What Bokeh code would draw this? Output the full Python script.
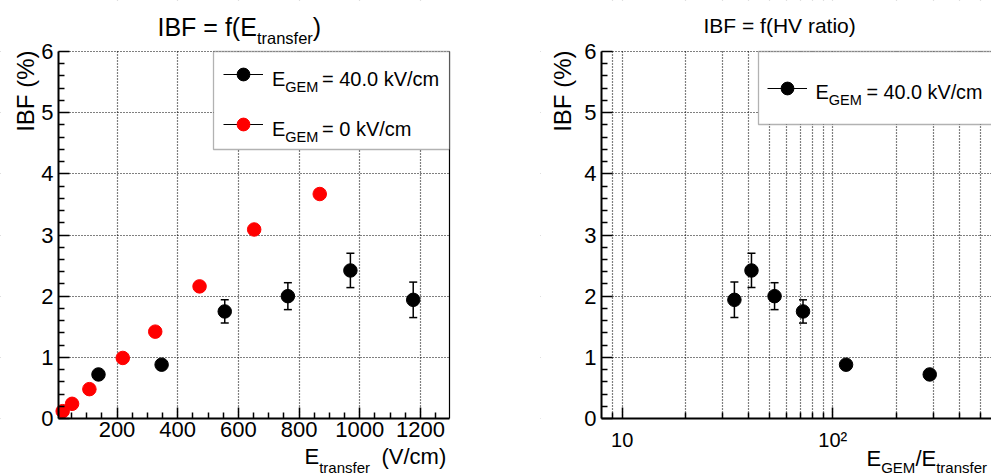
import numpy as np
from bokeh.plotting import figure
from bokeh.models import (ColumnDataSource, Whisker, TeeHead, FixedTicker, Label,
                          Legend, LegendItem, BoxAnnotation, LinearAxis, Range1d)
from bokeh.layouts import row
from bokeh.embed import file_html
from bokeh.resources import INLINE

# ---------------- data ----------------
e_transfer_40 = [139, 347, 555, 763, 969, 1176]          # V/cm, E_GEM = 40 kV/cm
ibf_40 = [0.72, 0.88, 1.75, 2.00, 2.42, 1.94]            # %
ibf_40_err = [0.05, 0.06, 0.19, 0.22, 0.28, 0.29]
hv_ratio_40 = [288.6, 115.6, 72.2, 52.9, 41.1, 34.1]     # E_GEM / E_transfer
e_transfer_0 = [21, 52, 109, 219, 326, 472, 652, 868]    # V/cm, E_GEM = 0 kV/cm
ibf_0 = [0.12, 0.24, 0.48, 0.99, 1.42, 2.16, 3.09, 3.67]

left_x_ticks = [200, 400, 600, 800, 1000, 1200]
left_x_minor = [50, 100, 150, 250, 300, 350, 450, 500, 550, 650, 700, 750,
                850, 900, 950, 1050, 1100, 1150, 1250]
y_ticks = [0, 1, 2, 3, 4, 5, 6]
y_minor = [round(0.2 * i, 1) for i in range(31) if i % 5]
log_ticks = [10, 100]
log_minor = [9, 20, 30, 40, 50, 60, 70, 80, 90, 200, 300, 400, 500]
log_tick_labels = {10: "10", 100: "10\u00b2"}

legend_labels_left = ["= 40.0 kV/cm", "= 0 kV/cm"]
legend_label_right = "= 40.0 kV/cm"

# ---------------- layout constants (pixels) ----------------
FONT = "Liberation Sans"
H = 475
FRAME_TOP, FRAME_BOTTOM = 51, 418
Y_MIN, Y_MAX = 0, 6
PX_PER_Y = (FRAME_BOTTOM - FRAME_TOP) / (Y_MAX - Y_MIN)
Y_LO = -(H - FRAME_BOTTOM) / PX_PER_Y
Y_HI = FRAME_BOTTOM / PX_PER_Y

# left panel: canvas x 0..540, data frame x 58..449
W1 = 540
X0_PX, PX_PER_X = 55.8, 0.3035          # pixel of E=0 and pixels per V/cm
x1_lo, x1_hi = -X0_PX / PX_PER_X, (W1 - X0_PX) / PX_PER_X
x1_min, x1_max = (58 - X0_PX) / PX_PER_X, (449 - X0_PX) / PX_PER_X

# right panel: canvas x 540..991, data frame x 601..991 (log)
OFF2, W2 = 540, 451
P10, DEC = 621.7, 210.6                 # pixel of 10 and pixels per decade
x2_lo = 10 ** (1 + (OFF2 - P10) / DEC)
x2_hi = 10 ** (1 + (OFF2 + W2 - P10) / DEC)
x2_min = 10 ** (1 + (601 - P10) / DEC)


def make_fig(width, xr, x_axis_type, xmin, xmax, xlabel_size, xstandoff):
    p = figure(width=width, height=H, output_backend="svg", toolbar_location=None,
               x_range=xr, y_range=Range1d(Y_LO, Y_HI), x_axis_type=x_axis_type,
               min_border=0, min_border_left=0, min_border_right=0,
               min_border_top=0, min_border_bottom=0)
    p.outline_line_color = None
    p.background_fill_color = "white"
    p.border_fill_color = "white"
    for g in (p.xgrid[0], p.ygrid[0]):
        g.grid_line_color = "black"
        g.grid_line_dash = "1 2"
        g.grid_line_width = 1.2
    # white masks so that the grid stays inside the data frame
    big_lo = 1e-3 if x_axis_type == "log" else -1e5
    for kw in (dict(left=big_lo, right=1e6, bottom=Y_MAX + 0.02, top=100),
               dict(left=big_lo, right=1e6, bottom=-100, top=Y_MIN),
               dict(left=big_lo, right=xmin, bottom=-100, top=100),
               dict(left=xmax, right=1e6, bottom=-100, top=100)):
        p.add_layout(BoxAnnotation(fill_color="white", fill_alpha=1, line_color=None,
                                   level="underlay", **kw))
    xa, ya = p.xaxis[0], p.yaxis[0]
    xa.fixed_location = Y_MIN
    xa.bounds = (xmin, xmax)
    ya.fixed_location = xmin
    ya.bounds = (Y_MIN, Y_MAX)
    for ax in (xa, ya):
        ax.axis_line_width = 2
        ax.axis_line_color = "black"
        ax.major_tick_in = 11
        ax.major_tick_out = 0
        ax.minor_tick_in = 6
        ax.minor_tick_out = 0
        ax.major_tick_line_width = 1.5
        ax.minor_tick_line_width = 1.5
        ax.major_tick_line_color = "black"
        ax.minor_tick_line_color = "black"
        ax.major_label_text_font = FONT
        ax.major_label_text_color = "black"
    ya.major_label_text_font_size = "22px"
    ya.major_label_standoff = 5
    ya.ticker = FixedTicker(ticks=y_ticks, minor_ticks=y_minor)
    xa.major_label_text_font_size = xlabel_size
    xa.major_label_standoff = xstandoff
    return p


def lab(p, off, text, X, Y, size, **kw):
    p.add_layout(Label(x=X - off, y=H - Y, x_units="screen", y_units="screen",
                       text=text, text_font=FONT, text_font_size=f"{size}px",
                       text_color="black", text_baseline="alphabetic", **kw))


def errors(p, xs, ys, es):
    src = ColumnDataSource(dict(x=xs, upper=[y + e for y, e in zip(ys, es)],
                                lower=[y - e for y, e in zip(ys, es)]))
    p.add_layout(Whisker(source=src, base="x", upper="upper", lower="lower",
                         line_color="black", line_width=1.5, level="glyph",
                         upper_head=TeeHead(size=8, line_width=1.5, line_color="black"),
                         lower_head=TeeHead(size=8, line_width=1.5, line_color="black")))


def legend(p, items, vx, vy):
    p.add_layout(Legend(items=items, location=(vx, vy), padding=0, spacing=18,
                        glyph_width=40, glyph_height=32, label_standoff=0, label_width=1,
                        label_text_font_size="1px", border_line_color=None,
                        background_fill_alpha=0, margin=0))


def legend_box(p, off, left, right, top, bottom):
    p.add_layout(BoxAnnotation(left=left - off, right=right - off, top=H - top, bottom=H - bottom,
                               left_units="screen", right_units="screen",
                               top_units="screen", bottom_units="screen",
                               fill_color="white", fill_alpha=1,
                               line_color="black", line_width=1.3))


# ---------------- left panel ----------------
p1 = make_fig(W1, Range1d(x1_lo, x1_hi), "linear", x1_min, x1_max, "22px", 3)
p1.xaxis[0].ticker = FixedTicker(ticks=left_x_ticks, minor_ticks=left_x_minor)
p1.add_layout(LinearAxis(fixed_location=x1_max, bounds=(Y_MIN, Y_MAX),
                         axis_line_width=1.2, axis_line_color="black",
                         major_tick_line_color=None, minor_tick_line_color=None,
                         major_label_text_alpha=0), "right")

errors(p1, e_transfer_40, ibf_40, ibf_40_err)
s_black = p1.scatter(e_transfer_40, ibf_40, size=13.5, color="black", marker="circle")
s_red = p1.scatter(e_transfer_0, ibf_0, size=13.5, color="#ff0000", marker="circle")
proto1 = p1.line(x=e_transfer_40[:1], y=ibf_40[:1], line_color="black", line_width=1)

legend_box(p1, 0, 213, 449, FRAME_TOP, 149)
legend(p1, [LegendItem(label=" ", renderers=[proto1, s_black]),
            LegendItem(label=" ", renderers=[proto1, s_red])], 223, H - 140)
for i, txt in enumerate(legend_labels_left):
    dy = 50 * i
    lab(p1, 0, "E", 271.5, 78.5 + dy, 20)
    lab(p1, 0, "GEM", 284.8, 86.5 + dy, 14.5)
    lab(p1, 0, txt, 321.5, 78.5 + dy, 20)

lab(p1, 0, "IBF = f(E", 157, 26.5, 25)
lab(p1, 0, "transfer", 256.4, 37.5, 16.5)
lab(p1, 0, ")", 312.3, 26.5, 25)
lab(p1, 0, "IBF (%)", 25, 50, 24, angle=np.pi / 2, text_align="right")
lab(p1, 0, "E", 304, 455.5, 22)
lab(p1, 0, "transfer", 318.7, 466.5, 15)
lab(p1, 0, "(V/cm)", 381, 455.5, 22)

# ---------------- right panel ----------------
p2 = make_fig(W2, Range1d(x2_lo, x2_hi), "log", x2_min, x2_hi, "20px", 10)
p2.xaxis[0].ticker = FixedTicker(ticks=log_ticks, minor_ticks=log_minor)
p2.xaxis[0].major_label_overrides = log_tick_labels
p2.xgrid[0].minor_grid_line_color = "black"
p2.xgrid[0].minor_grid_line_dash = "1 2"
p2.xgrid[0].minor_grid_line_width = 1.2

errors(p2, hv_ratio_40, ibf_40, ibf_40_err)
s_black2 = p2.scatter(hv_ratio_40, ibf_40, size=13.5, color="black", marker="circle")
proto2 = p2.line(x=hv_ratio_40[:1], y=ibf_40[:1], line_color="black", line_width=1)

legend_box(p2, OFF2, 758, OFF2 + W2 + 2, FRAME_TOP, 124)
legend(p2, [LegendItem(label=" ", renderers=[proto2, s_black2])], 767 - OFF2, H - 104)
lab(p2, OFF2, "E", 815, 91.5, 20)
lab(p2, OFF2, "GEM", 828.3, 99.5, 14.5)
lab(p2, OFF2, legend_label_right, 866, 91.5, 19.8)

lab(p2, OFF2, "IBF = f(HV ratio)", 703, 25, 21)
lab(p2, OFF2, "IBF (%)", 562, 50, 24, angle=np.pi / 2, text_align="right")
XE = 866
lab(p2, OFF2, "E", XE, 457.5, 22)
lab(p2, OFF2, "GEM", XE + 14.7, 467, 15)
lab(p2, OFF2, "/E", XE + 48.9, 457.5, 22)
lab(p2, OFF2, "transfer", XE + 69.7, 467, 15)

layout = row(p1, p2)
open("out.html", "w").write(file_html(layout, INLINE))
